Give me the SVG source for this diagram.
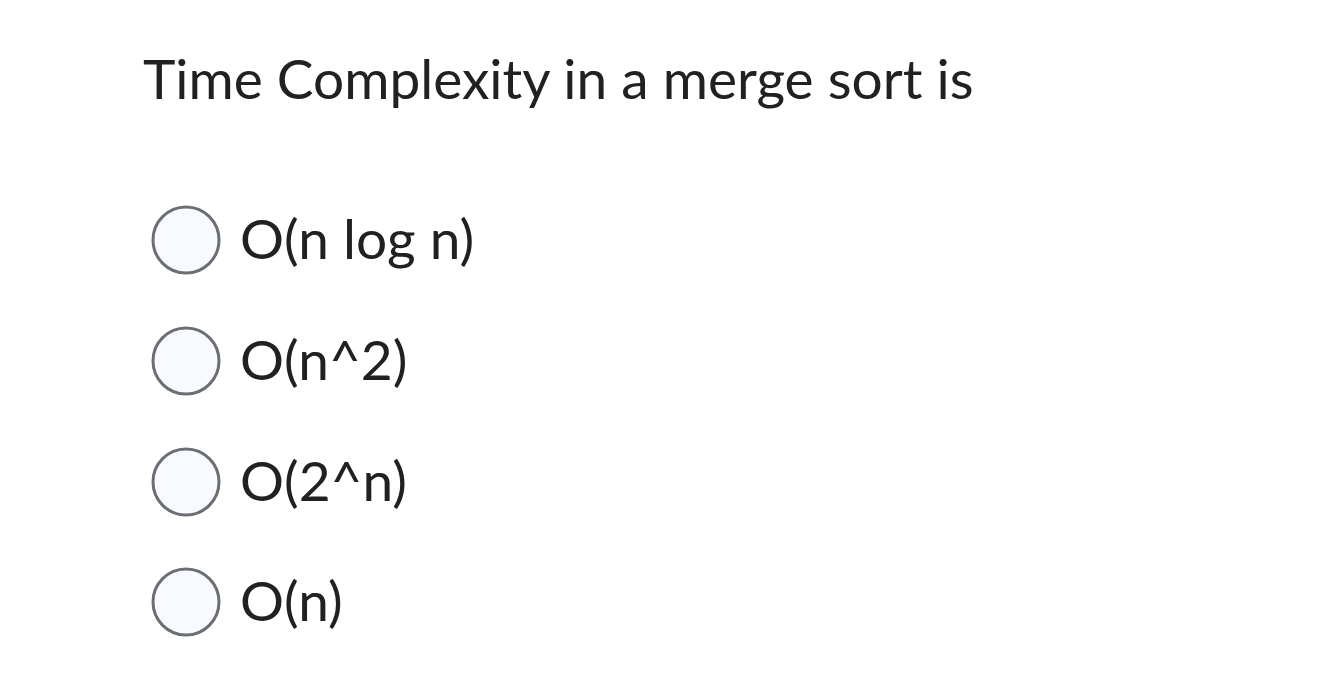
<svg xmlns="http://www.w3.org/2000/svg" width="1320" height="696" viewBox="0 0 1320 696">
<style>
text{font-family:Lato,"Liberation Sans",sans-serif;font-size:55px;fill:#202122}
.r{fill:#f8faff;stroke:#6b6f73;stroke-width:3}
</style>
<rect width="1320" height="696" fill="#fff"/>
<text x="143" y="99">Time Complexity in a merge sort is</text>
<g id="opt1"><circle class="r" cx="186" cy="240" r="33"/><text x="240" y="259">O(n log n)</text></g>
<g id="opt2"><circle class="r" cx="186" cy="361" r="33"/><text x="240" y="380">O(n^2)</text></g>
<g id="opt3"><circle class="r" cx="186" cy="482" r="33"/><text x="240" y="501">O(2^n)</text></g>
<g id="opt4"><circle class="r" cx="186" cy="602" r="33"/><text x="240" y="621">O(n)</text></g>
<g id="connectors"/>
</svg>
